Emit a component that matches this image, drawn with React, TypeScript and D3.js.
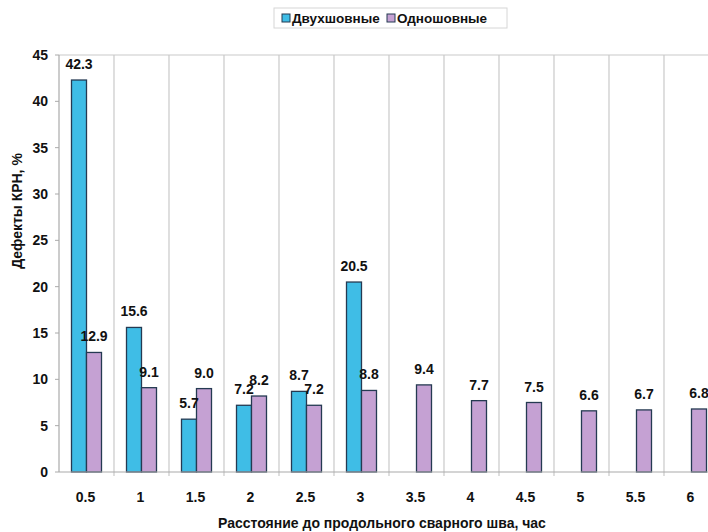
import React from "react";
import * as d3 from "d3";

const categories = ["0.5", "1", "1.5", "2", "2.5", "3", "3.5", "4", "4.5", "5", "5.5", "6"];
const doubleSeam: (number | null)[] = [42.3, 15.6, 5.7, 7.2, 8.7, 20.5, null, null, null, null, null, null];
const singleSeam: (number | null)[] = [12.9, 9.1, 9.0, 8.2, 7.2, 8.8, 9.4, 7.7, 7.5, 6.6, 6.7, 6.8];
const seriesNames = ["Двухшовные", "Одношовные"];
const yTicks = [0, 5, 10, 15, 20, 25, 30, 35, 40, 45];

const W = 708;
const H = 532;
const left = 59;
const top = 55;
const bottom = 472;
const catW = 55;
const right = left + catW * categories.length;

const BLUE = "#3fbde6";
const PURPLE = "#c5a1d3";
const STROKE = "#253a52";
const GRID = "#c9c9c9";
const FONT = "'Liberation Sans', Arial, sans-serif";

export default function App() {
  const x = d3.scaleBand<string>().domain(categories).range([left, right]).padding(0);
  const sub = d3.scaleBand<string>().domain(["a", "b"]).range([-15, 15]);
  const y = d3.scaleLinear().domain([0, 45]).range([bottom, top]);

  const series = [
    { key: "a", vals: doubleSeam, color: BLUE },
    { key: "b", vals: singleSeam, color: PURPLE },
  ];

  return (
    <svg width={W} height={H} style={{ position: "absolute", left: 0, top: 0, background: "#fff" }} fontFamily={FONT}>
      <rect x={0} y={0} width={W} height={H} fill="#fff" />
      {/* legend */}
      <rect x={274} y={8} width={233} height={20} fill="#fff" stroke="#d6d6d6" />
      <rect x={282} y={14} width={8} height={8} fill={BLUE} stroke={STROKE} strokeWidth={1} />
      <text x={292} y={23} fontSize={13.5} fontWeight="bold" fill="#111">{seriesNames[0]}</text>
      <rect x={387} y={14} width={8} height={8} fill={PURPLE} stroke={STROKE} strokeWidth={1} />
      <text x={397} y={23} fontSize={13.5} fontWeight="bold" fill="#111">{seriesNames[1]}</text>

      {/* top border and vertical grid */}
      <line x1={left} x2={W} y1={top} y2={top} stroke={GRID} strokeWidth={1.2} />
      {categories.slice(1).map((c) => (
        <line key={c} x1={x(c)!} x2={x(c)!} y1={top} y2={bottom + 4} stroke={GRID} strokeWidth={1.2} />
      ))}
      {/* y axis */}
      <line x1={left} x2={left} y1={top} y2={bottom} stroke="#aaa" strokeWidth={1.2} />
      {yTicks.map((t) => (
        <g key={t}>
          <line x1={left - 4} x2={left} y1={y(t)} y2={y(t)} stroke="#aaa" />
          <text x={48} y={y(t) + 5} textAnchor="end" fontSize={14} fontWeight="bold" fill="#111">{t}</text>
        </g>
      ))}

      {/* bars */}
      {series.map((s) =>
        s.vals.map((v, i) =>
          v == null ? null : (
            <rect
              key={s.key + i}
              x={x(categories[i])! + catW / 2 + sub(s.key)!}
              y={y(v)}
              width={sub.bandwidth()}
              height={bottom - y(v)}
              fill={s.color}
              stroke={STROKE}
              strokeWidth={1.3}
            />
          )
        )
      )}

      {/* x axis */}
      <line x1={left} x2={W} y1={bottom} y2={bottom} stroke="#aaa" strokeWidth={1.2} />
      {categories.map((c) => (
        <text key={c} x={x(c)! + catW / 2 - 1} y={502} textAnchor="middle" fontSize={14} fontWeight="bold" fill="#111">{c}</text>
      ))}

      {/* value labels */}
      {series.map((s) =>
        s.vals.map((v, i) =>
          v == null ? null : (
            <text
              key={"l" + s.key + i}
              x={x(categories[i])! + catW / 2 + sub(s.key)! + sub.bandwidth() / 2}
              y={y(v) - 11}
              textAnchor="middle"
              fontSize={14}
              fontWeight="bold"
              fill="#111"
            >
              {v.toFixed(1)}
            </text>
          )
        )
      )}

      {/* axis titles */}
      <text x={382} y={528} textAnchor="middle" fontSize={14} fontWeight="bold" fill="#111">Расстояние до продольного сварного шва, час</text>
      <text transform="translate(22,211) rotate(-90)" textAnchor="middle" fontSize={14} fontWeight="bold" fill="#111">Дефекты КРН, %</text>
    </svg>
  );
}
